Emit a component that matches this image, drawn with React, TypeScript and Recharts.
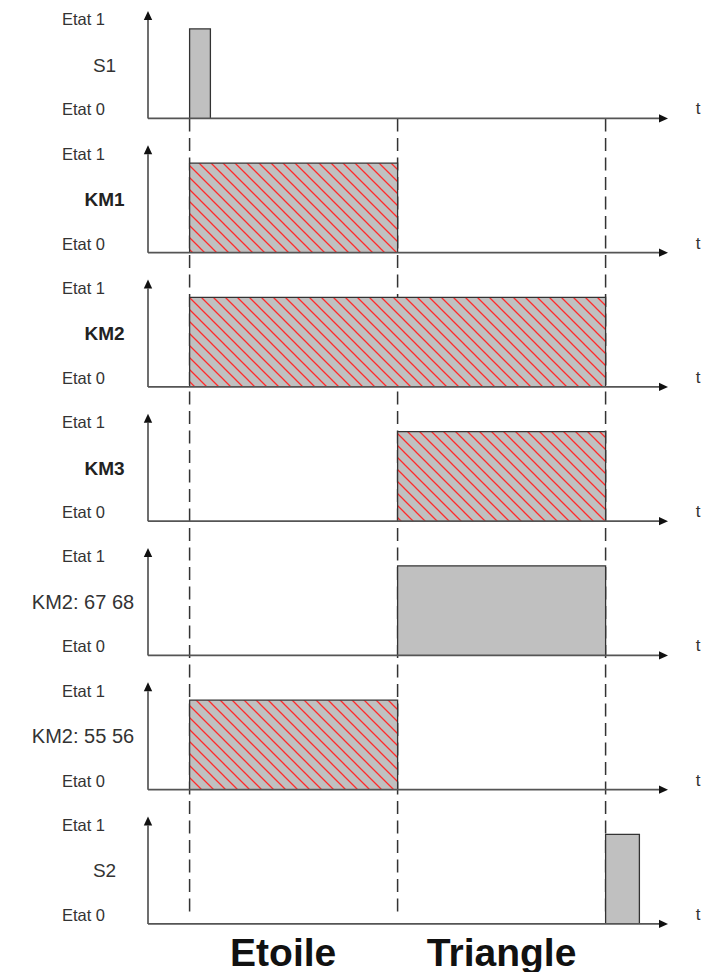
import React from 'react';
import { ComposedChart, Area, XAxis, YAxis, ReferenceLine } from 'recharts';

// ---------- data ----------
const signalNames = ['S1', 'KM1', 'KM2', 'KM3', 'KM2: 67 68', 'KM2: 55 56', 'S2'];
const stateHighLabel = 'Etat 1';
const stateLowLabel = 'Etat 0';
const timeLabel = 't';
const pulseStart = [0.8, 0.8, 0.8, 4.8, 4.8, 0.8, 8.8];
const pulseEnd = [1.2, 4.8, 8.8, 8.8, 8.8, 4.8, 9.45];
const stateOn = [1, 1, 1, 1, 1, 1, 1];
const stateOff = [0, 0, 0, 0, 0, 0, 0];
const eventTimes = [0.8, 4.8, 8.8];
const phaseLabels = ['Etoile', 'Triangle'];
const phaseTicks = [2.6, 6.8];
const timeDomain: [number, number] = [0, 10];

// ---------- styles / layout ----------
const hatched = [false, true, true, true, false, true, false];
const boldName = [false, true, true, true, false, false, false];
const ROW_STEP = 1.5;
const AXIS_LEN = 1.2;
const yDomain: [number, number] = [-0.1, 10.2];
const FONT = "'Liberation Sans', Arial, Helvetica, sans-serif";
const n = signalNames.length;
const base = (i: number) => (n - 1 - i) * ROW_STEP;

const rowData = signalNames.map((_, i) => {
  const b = base(i);
  return [
    { t: pulseStart[i], v: b + stateOff[i] },
    { t: pulseStart[i], v: b + stateOn[i] },
    { t: pulseEnd[i], v: b + stateOn[i] },
    { t: pulseEnd[i], v: b + stateOff[i] },
  ];
});

type TickInfo = { v: number; text: string; kind: 'state' | 'name'; row: number };
const tickInfo: TickInfo[] = [];
signalNames.forEach((name, i) => {
  const b = base(i);
  tickInfo.push({ v: b + 1.04, text: stateHighLabel, kind: 'state', row: i });
  tickInfo.push({ v: b + 0.52, text: name, kind: 'name', row: i });
  tickInfo.push({ v: b + 0.035, text: stateLowLabel, kind: 'state', row: i });
});
const leftTicks = tickInfo.map((t) => t.v);
const rightTicks = signalNames.map((_, i) => base(i) + 0.045);

const renderLeftTick = (props: any) => {
  const { y, payload } = props;
  const info = tickInfo.find((e) => Math.abs(e.v - payload.value) < 1e-6);
  if (!info) return <g />;
  if (info.kind === 'state') {
    return (
      <text x={75.5} y={y} textAnchor="middle" fontFamily={FONT} fontSize={16.5} fill="#333">
        {info.text}
      </text>
    );
  }
  const long = info.text.length > 4;
  return (
    <text
      x={long ? 75 : 96.5}
      y={y}
      textAnchor="middle"
      fontFamily={FONT}
      fontSize={long ? 20 : 19}
      fontWeight={boldName[info.row] ? 'bold' : 'normal'}
      fill={boldName[info.row] ? '#222' : '#333'}
    >
      {info.text}
    </text>
  );
};

const renderRightTick = (props: any) => {
  const { y } = props;
  return (
    <text x={690} y={y} textAnchor="middle" fontFamily={FONT} fontSize={17} fill="#333">
      {timeLabel}
    </text>
  );
};

const renderPhaseTick = (props: any) => {
  const { x, y, payload } = props;
  const idx = phaseTicks.findIndex((v) => Math.abs(v - payload.value) < 1e-6);
  if (idx < 0) return <g />;
  return (
    <text x={x} y={y + 33} textAnchor="middle" fontFamily={FONT} fontSize={39} fontWeight="bold" fill="#111">
      {phaseLabels[idx]}
    </text>
  );
};

const makeArrowShape = (withDefs: boolean) => (props: any) => {
  const x1 = Number(props.x1), y1 = Number(props.y1), x2 = Number(props.x2), y2 = Number(props.y2);
  const dx = x2 - x1, dy = y2 - y1;
  const len = Math.hypot(dx, dy) || 1;
  const ux = dx / len, uy = dy / len;
  const L = 9, W = 4.2;
  const bx = x2 - ux * L, by = y2 - uy * L;
  const px = -uy, py = ux;
  return (
    <g>
      {withDefs && (
        <defs>
          <pattern id="hatch" patternUnits="userSpaceOnUse" width={12} height={12}>
            <rect width={12} height={12} fill="#c0c0c0" />
            <path d="M-3,9 L3,15 M0,0 L12,12 M9,-3 L15,3" stroke="#ff2b2b" strokeWidth={1.3} />
          </pattern>
        </defs>
      )}
      <line x1={x1} y1={y1} x2={bx} y2={by} stroke="#555" strokeWidth={1.7} />
      <polygon
        points={`${x2},${y2} ${bx + px * W},${by + py * W} ${bx - px * W},${by - py * W}`}
        fill="#111"
      />
    </g>
  );
};

export default function App() {
  return (
    <div style={{ width: 700, height: 964 }}>
      <style>{'.recharts-surface{overflow:visible}.recharts-wrapper{overflow:visible}'}</style>
      <ComposedChart width={700} height={964} margin={{ top: 3, right: 0, bottom: 2.15, left: 0 }}>
        <XAxis
          type="number"
          dataKey="t"
          domain={timeDomain}
          ticks={phaseTicks}
          interval={0}
          axisLine={false}
          tickLine={false}
          tickSize={0}
          tickMargin={0}
          height={37}
          tick={renderPhaseTick}
          allowDataOverflow
        />
        <YAxis
          yAxisId="L"
          type="number"
          domain={yDomain}
          ticks={leftTicks}
          interval={0}
          axisLine={false}
          tickLine={false}
          tickSize={0}
          tickMargin={0}
          width={140}
          tick={renderLeftTick}
          allowDataOverflow
        />
        <YAxis
          yAxisId="R"
          orientation="right"
          type="number"
          domain={yDomain}
          ticks={rightTicks}
          interval={0}
          axisLine={false}
          tickLine={false}
          tickSize={0}
          tickMargin={0}
          width={40}
          tick={renderRightTick}
          allowDataOverflow
        />
        {eventTimes.map((e, k) => (
          <ReferenceLine
            key={`ev${k}`}
            yAxisId="L"
            segment={[{ x: e, y: base(0) }, { x: e, y: 0.07 }]}
            stroke="#333"
            strokeWidth={1.5}
            strokeDasharray="13 6.5"
            ifOverflow="visible"
            zIndex={50}
          />
        ))}
        {signalNames.map((name, i) => (
          <Area
            key={`a${i}`}
            name={name}
            yAxisId="L"
            data={rowData[i]}
            dataKey="v"
            type="linear"
            baseValue={base(i)}
            fill={hatched[i] ? 'url(#hatch)' : '#c0c0c0'}
            fillOpacity={1}
            stroke="#333"
            strokeWidth={1.3}
            dot={false}
            activeDot={false}
            isAnimationActive={false}
            zIndex={100}
          />
        ))}
        {signalNames.map((_, i) => (
          <ReferenceLine
            key={`h${i}`}
            yAxisId="L"
            segment={[{ x: timeDomain[0], y: base(i) }, { x: timeDomain[1], y: base(i) }]}
            ifOverflow="visible"
            shape={makeArrowShape(i === 0)}
            zIndex={600}
          />
        ))}
        {signalNames.map((_, i) => (
          <ReferenceLine
            key={`v${i}`}
            yAxisId="L"
            segment={[{ x: timeDomain[0], y: base(i) }, { x: timeDomain[0], y: base(i) + AXIS_LEN }]}
            ifOverflow="visible"
            shape={makeArrowShape(false)}
            zIndex={600}
          />
        ))}
      </ComposedChart>
    </div>
  );
}
